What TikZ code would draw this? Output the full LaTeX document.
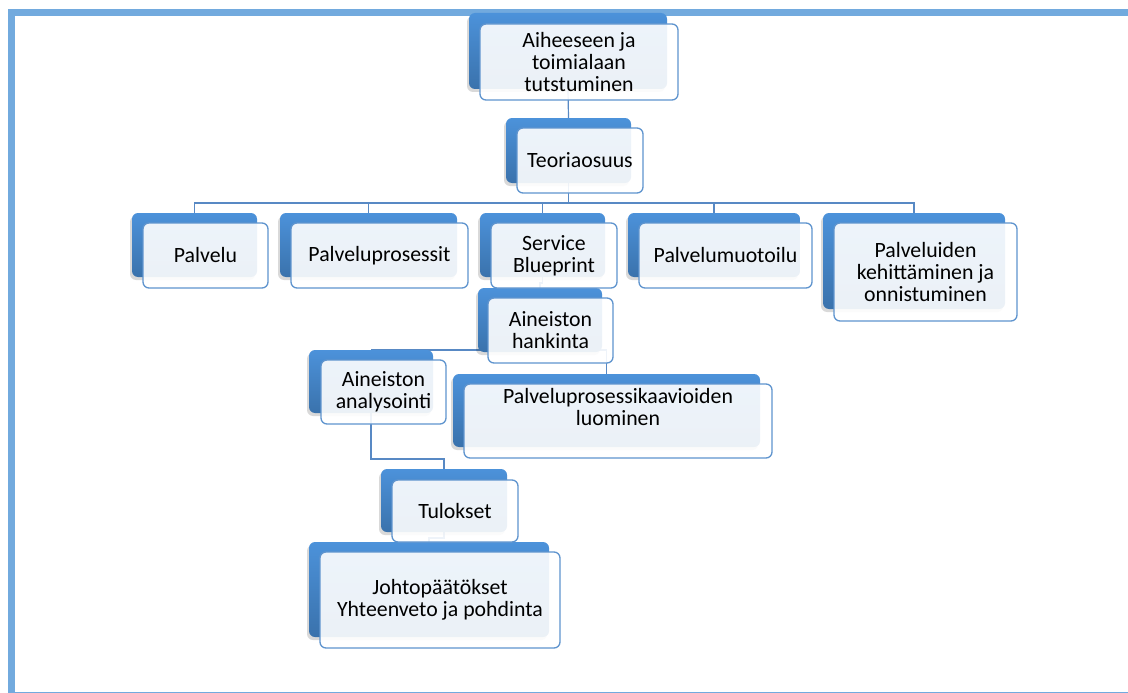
\documentclass[tikz,border=0pt]{standalone}
\usepackage{fontspec}
\setmainfont{Carlito}
\usetikzlibrary{calc,shadows,backgrounds}
\definecolor{framecol}{RGB}{114,170,222}
\definecolor{backtop}{RGB}{76,146,218}
\definecolor{backbot}{RGB}{58,114,172}
\definecolor{frontline}{RGB}{95,148,206}
\definecolor{linkcol}{RGB}{88,137,196}
\begin{document}
\begin{tikzpicture}[x=1pt,y=-1pt,
  backbox/.style={rectangle, rounded corners=6pt, top color=backtop, bottom color=backbot, draw=none,
    anchor=north west, inner sep=0pt, outer sep=0pt,
    drop shadow={shadow xshift=-2pt, shadow yshift=-3pt, opacity=0.15, fill=black}},
  frontbox/.style={rectangle, rounded corners=6pt, draw=frontline, line width=1.3pt, fill=white,
    fill opacity=0.9, text opacity=1, anchor=north west, inner sep=0pt, outer sep=0pt,
    align=center, font=\fontsize{21.8}{22}\selectfont, text=black},
  boxtext/.style={align=center, font=\fontsize{21.8}{22}\selectfont, text=black, inner sep=0pt},
  link/.style={draw=linkcol, line width=1.2pt}]
\useasboundingbox (0,0) rectangle (1128,693);
\clip (0,0) rectangle (1128,693);

% back boxes
\node[backbox, minimum width=198pt, minimum height=76pt] (topb) at (469,13) {};
\node[backbox, minimum width=125pt, minimum height=65pt] (teorb) at (506,118) {};
\node[backbox, minimum width=125pt, minimum height=64pt] (palvb) at (132,213) {};
\node[backbox, minimum width=177pt, minimum height=64pt] (prosb) at (280,213) {};
\node[backbox, minimum width=125pt, minimum height=64pt] (bluepb) at (480,213) {};
\node[backbox, minimum width=172pt, minimum height=64pt] (muotb) at (628,213) {};
\node[backbox, minimum width=182pt, minimum height=96pt] (kehb) at (823,213) {};
\node[backbox, minimum width=124pt, minimum height=64pt] (hankb) at (478,288) {};
\node[backbox, minimum width=124pt, minimum height=63pt] (analb) at (309,350) {};
\node[backbox, minimum width=307pt, minimum height=73pt] (kaavb) at (453,374) {};
\node[backbox, minimum width=126pt, minimum height=63pt] (tulob) at (381,469) {};
\node[backbox, minimum width=240pt, minimum height=95pt] (johtb) at (309,542) {};

% front boxes
\node[frontbox, minimum width=198pt, minimum height=76pt] (top) at (480,24) {Aiheeseen ja\\toimialaan\\tutstuminen};
\node[frontbox, minimum width=126pt, minimum height=65pt] (teor) at (517,128) {Teoriaosuus};
\node[frontbox, minimum width=125pt, minimum height=65pt] (palv) at (143,223) {Palvelu};
\node[frontbox, minimum width=177pt, minimum height=65pt] (pros) at (291,223) {Palveluprosessit};
\node[frontbox, minimum width=126pt, minimum height=65pt] (bluep) at (491,223) {Service\\Blueprint};
\node[frontbox, minimum width=173pt, minimum height=65pt] (muot) at (639,223) {Palvelumuotoilu};
\node[frontbox, minimum width=183pt, minimum height=98pt] (keh) at (834,223) {Palveluiden\\kehittäminen ja\\onnistuminen};
\node[frontbox, minimum width=125pt, minimum height=65pt] (hank) at (488,298) {Aineiston\\hankinta};
\node[frontbox, minimum width=125pt, minimum height=64pt] (anal) at (321,360) {Aineiston\\analysointi};
\node[frontbox, minimum width=308pt, minimum height=74pt] (kaav) at (464,384) {};
\node[boxtext] (kaavtext) at (618,407.5) {Palveluprosessikaavioiden\\luominen};
\node[frontbox, minimum width=126pt, minimum height=62pt] (tulo) at (392,480) {Tulokset};
\node[frontbox, minimum width=240pt, minimum height=96pt] (joht) at (320,552) {Johtopäätökset\\Yhteenveto ja pohdinta};

\begin{scope}[on background layer]
\fill[white] (0,0) rectangle (1128,693);
\draw[framecol, line width=7pt] (11,13) rectangle (1160,695);
\draw[link] (topb.south) -- (teorb.north);
\foreach \c in {palvb,prosb,bluepb,muotb,kehb}
  \draw[link] (teorb.south) |- ([yshift=10pt]\c.north) -| (\c.north);
\draw[link] (bluepb.south) |- ([yshift=5pt]hankb.north) -| (hankb.north);
\coordinate (hbus) at (hankb.south |- analb.north);
\draw[link] (hankb.south) -- (hbus) -| (analb.north);
\draw[link] (hbus) -| (kaavb.north);
\draw[link] (analb.south) |- ([yshift=10pt]tulob.north) -| (tulob.north);
\draw[link] (tulob.south) |- ([yshift=4pt]johtb.north) -| (johtb.north);
\end{scope}
\end{tikzpicture}
\end{document}
